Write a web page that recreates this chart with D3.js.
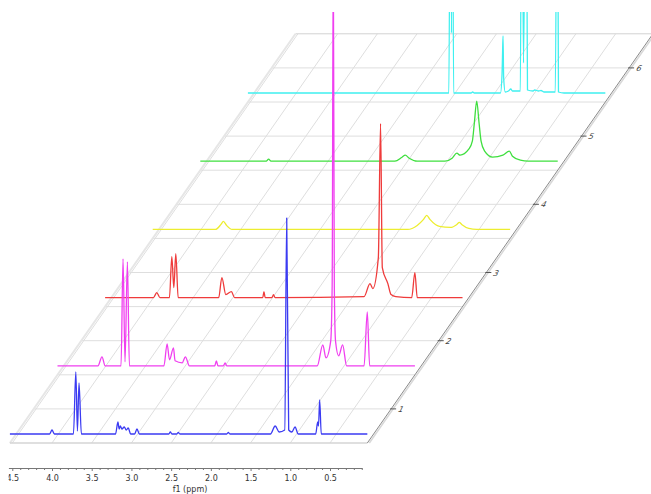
<!DOCTYPE html>
<html>
<head>
<meta charset="utf-8">
<script src="https://cdn.jsdelivr.net/npm/d3@7"></script>
<style>
    body {margin: 0; background: #fff;}
    svg {display: block;}
</style>
</head>
<body>
<svg id="chart" width="651" height="494"></svg>
<script>
// each spectrum: [ppm, intensity], front (1) to back (6)
const spectrum1 = [
    [4.53, 0], [4.03, 0], [4.0, 4], [3.97, 0],
    [3.73, 0], [3.70, 62], [3.68, 3], [3.66, 51], [3.63, 0],
    [3.20, 0], [3.17, 12], [3.155, 5], [3.14, 8], [3.12, 5], [3.09, 7], [3.065, 4], [3.04, 6], [3.01, 0],
    [2.96, 0], [2.93, 5], [2.90, 0],
    [2.53, 0], [2.51, 2], [2.49, 0], [2.43, 0], [2.41, 1.5], [2.39, 0],
    [1.80, 0], [1.78, 1.5], [1.76, 0],
    [1.25, 0], [1.19, 8], [1.14, 2], [1.07, 4], [1.045, 216], [1.02, 4], [0.98, 2], [0.94, 7], [0.90, 0],
    [0.68, 0], [0.655, 12], [0.645, 8], [0.63, 34], [0.61, 0],
    [0.03, 0]
];
const spectrum2 = [
    [4.53, 0], [4.02, 0], [3.97, 9], [3.93, 0],
    [3.73, 0], [3.705, 107], [3.68, 4], [3.65, 104], [3.625, 0],
    [3.19, 0], [3.15, 22], [3.12, 6], [3.07, 18], [3.05, 5], [2.96, 3], [2.92, 9], [2.87, 0],
    [2.55, 0], [2.53, 5], [2.51, 0], [2.44, 0], [2.42, 3], [2.40, 0],
    [1.26, 0], [1.19, 21], [1.15, 8], [1.09, 25], [1.072, 80], [1.058, 420], [1.045, 80], [1.03, 25],
    [0.99, 10], [0.94, 21], [0.89, 0],
    [0.67, 0], [0.63, 54], [0.60, 0],
    [0.03, 0]
];
const spectrum3 = [
    [4.53, 0], [3.92, 0], [3.88, 5], [3.84, 0],
    [3.72, 0], [3.69, 41], [3.665, 10], [3.64, 44], [3.61, 0],
    [3.10, 0], [3.06, 20], [3.01, 3], [2.94, 6], [2.90, 0],
    [2.545, 0], [2.53, 6], [2.515, 0], [2.43, 0], [2.41, 3], [2.39, 0],
    [1.27, 1], [1.195, 14], [1.16, 9], [1.09, 40], [1.062, 174], [1.04, 30], [0.97, 14], [0.93, 3], [0.87, 1],
    [0.67, 0], [0.63, 25], [0.60, 0],
    [0.03, 0]
];
const spectrum4 = [
    [4.53, 0], [3.74, 0], [3.67, 5], [3.64, 8], [3.60, 4], [3.53, 0],
    [1.32, 0], [1.2, 4], [1.12, 10], [1.08, 14], [1.04, 10], [0.92, 3], [0.78, 2],
    [0.70, 5], [0.67, 7], [0.64, 5], [0.55, 1], [0.45, 0],
    [0.03, 0]
];
const spectrum5 = [
    [4.53, 0], [3.70, 0], [3.67, 2], [3.64, 0],
    [2.08, 0], [1.99, 4], [1.95, 6], [1.90, 3], [1.80, 0],
    [1.45, 0], [1.36, 3], [1.30, 8], [1.26, 6], [1.15, 12], [1.105, 20], [1.08, 38], [1.05, 60],
    [1.02, 38], [0.995, 20], [0.95, 10], [0.85, 4], [0.72, 6], [0.64, 10], [0.60, 5], [0.50, 1], [0.40, 0],
    [0.03, 0]
];
const spectrum6 = [
    [4.53, 0], [2.00, 0], [1.98, 300], [1.967, 60], [1.955, 300], [1.94, 0],
    [1.72, 0], [1.70, 1], [1.68, 0],
    [1.35, 0], [1.33, 20], [1.325, 36], [1.318, 57], [1.31, 15], [1.29, 1], [1.25, 2], [1.22, 4], [1.20, 2],
    [1.10, 2], [1.083, 300], [1.06, 30], [1.029, 300], [1.01, 3], [0.94, 2], [0.92, 3], [0.87, 2], [0.84, 2.5], [0.80, 1],
    [0.66, 1], [0.635, 300], [0.62, 1], [0.55, 0],
    [0.03, 0]
];
const spectra = [spectrum1, spectrum2, spectrum3, spectrum4, spectrum5, spectrum6];
const spectrumDepths = [0.5, 1.5, 2.5, 3.5, 4.5, 5.5];
const depthTicks = [1, 2, 3, 4, 5, 6];
const ppmTicks = [4.5, 4.0, 3.5, 3.0, 2.5, 2.0, 1.5, 1.0, 0.5];
const ppmMinorTicks = d3.range(45, 0, -1).map(v => v / 10).filter(v => !ppmTicks.includes(v));

const colors = ["#3b3bf2", "#f03ff0", "#ef3b3b", "#eded30", "#3fdf3f", "#3ff0f0"];

const svg = d3.select("#chart");

const x = d3.scaleLinear().domain([4.0, 0.5]).range([52, 330]);
const depth = d3.scaleLinear().domain([0.5, 6.5]).range([443, 443 - 6 * 68.2]);
const intensity = d3.scaleLinear().domain([0, 100]).range([9, 109]);
const skewPerDepth = 47.6;
const floorPpm = [4.53, 0.03];
const floorDepth = [0.5, 6.5];

// project (ppm, depth) onto the sheared floor
const px = (ppm, d) => x(ppm) + (d - floorDepth[0]) * skewPerDepth;

svg.append("clipPath").attr("id", "plot-clip")
    .append("rect").attr("x", 0).attr("y", 12).attr("width", 651).attr("height", 482);
// in the axis group's own coordinates (it is translated to y = 468)
svg.append("clipPath").attr("id", "axis-clip")
    .append("rect").attr("x", 8.5).attr("y", -5).attr("width", 642).attr("height", 30);

const floor = svg.append("g").attr("class", "floor");

// grid lines of constant depth
floor.selectAll("line.depth-grid")
    .data(d3.range(1, 6.5, 0.5))
    .join("line")
    .attr("class", "depth-grid")
    .attr("x1", d => px(floorPpm[0], d))
    .attr("x2", d => px(floorPpm[1], d))
    .attr("y1", d => depth(d))
    .attr("y2", d => depth(d))
    .style("stroke", "#dedede")
    .style("stroke-width", 1);

// grid lines of constant ppm
floor.selectAll("line.ppm-grid")
    .data(ppmTicks)
    .join("line")
    .attr("class", "ppm-grid")
    .attr("x1", d => px(d, floorDepth[0]))
    .attr("x2", d => px(d, floorDepth[1]))
    .attr("y1", depth(floorDepth[0]))
    .attr("y2", depth(floorDepth[1]))
    .style("stroke", "#dedede")
    .style("stroke-width", 1);

// floor border: back, left, front, right
floor.append("line")
    .attr("x1", px(floorPpm[0], floorDepth[1])).attr("y1", depth(floorDepth[1]))
    .attr("x2", px(floorPpm[1], floorDepth[1])).attr("y2", depth(floorDepth[1]))
    .style("stroke", "#d2d2d2");
floor.append("line")
    .attr("x1", px(floorPpm[0], floorDepth[0])).attr("y1", depth(floorDepth[0]))
    .attr("x2", px(floorPpm[0], floorDepth[1])).attr("y2", depth(floorDepth[1]))
    .style("stroke", "#e6e6e6")
    .style("stroke-width", 2);
floor.append("line")
    .attr("x1", px(floorPpm[0], floorDepth[0])).attr("y1", depth(floorDepth[0]))
    .attr("x2", px(floorPpm[1], floorDepth[0])).attr("y2", depth(floorDepth[0]))
    .style("stroke", "#d4d4d4")
    .style("stroke-width", 1.5);
floor.append("line")
    .attr("x1", px(floorPpm[1], floorDepth[0]) + 2).attr("y1", depth(floorDepth[0]))
    .attr("x2", px(floorPpm[1], floorDepth[1]) + 2).attr("y2", depth(floorDepth[1]))
    .style("stroke", "#d8d8d8")
    .style("stroke-width", 1.5);
floor.append("line")
    .attr("x1", px(floorPpm[1], floorDepth[0])).attr("y1", depth(floorDepth[0]))
    .attr("x2", px(floorPpm[1], floorDepth[1])).attr("y2", depth(floorDepth[1]))
    .style("stroke", "#8a8a8a")
    .style("stroke-width", 1);

// depth axis on the right edge
const depthAxis = svg.append("g").attr("class", "depth-axis");
depthTicks.forEach(t => {
    const xe = px(floorPpm[1], t), ye = depth(t);
    depthAxis.append("line")
        .attr("x1", xe - 1).attr("x2", xe + 5)
        .attr("y1", ye).attr("y2", ye)
        .style("stroke", "#555");
    depthAxis.append("text")
        .attr("transform", `translate(${xe + 6},${ye + 3}) skewX(-25)`)
        .style("font-family", "DejaVu Sans, sans-serif")
        .style("font-size", "8px")
        .style("fill", "#444")
        .text(t);
});

// spectra, back to front
const spectraGroup = svg.append("g").attr("clip-path", "url(#plot-clip)");
d3.range(spectra.length - 1, -1, -1).forEach(i => {
    const d = spectrumDepths[i];
    const line = d3.line()
        .x(p => px(p[0], d))
        .y(p => depth(d) - intensity(p[1]))
        .curve(d3.curveMonotoneX);
    spectraGroup.append("path")
        .datum(spectra[i])
        .attr("d", line)
        .style("fill", "none")
        .style("stroke", colors[i])
        .style("stroke-width", 1.3)
        .style("stroke-linejoin", "round");
});

// bottom ppm axis
const xAxisScale = x.copy().domain([4.55, 0.1]).range([x(4.55), x(0.1)]);
const axisGroup = svg.append("g")
    .attr("transform", "translate(0,468)")
    .attr("clip-path", "url(#axis-clip)");
axisGroup.call(d3.axisBottom(xAxisScale)
    .tickValues(ppmTicks)
    .tickFormat(d3.format(".1f"))
    .tickSize(3)
    .tickSizeOuter(0));
axisGroup.append("g").call(d3.axisBottom(xAxisScale)
    .tickValues(ppmMinorTicks)
    .tickFormat("")
    .tickSize(2)
    .tickSizeOuter(0))
    .select(".domain").remove();
axisGroup.selectAll("path.domain, line").style("stroke", "#777");
axisGroup.selectAll("text")
    .style("font-family", "DejaVu Sans, sans-serif")
    .style("font-size", "8px")
    .style("fill", "#333")
    .attr("y", 7);

svg.append("text")
    .attr("x", 190).attr("y", 492)
    .attr("text-anchor", "middle")
    .style("font-family", "DejaVu Sans, sans-serif")
    .style("font-size", "8px")
    .style("fill", "#333")
    .text("f1 (ppm)");
</script>
</body>
</html>
